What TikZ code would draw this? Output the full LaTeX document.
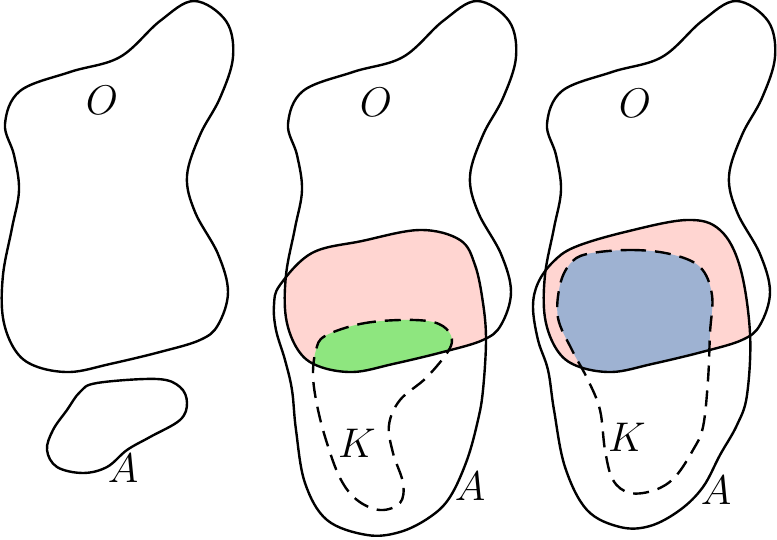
\documentclass[tikz,border=0pt]{standalone}
\usetikzlibrary{positioning}

\definecolor{interred}{RGB}{255,213,209}
\definecolor{kgreen}{RGB}{142,230,127}
\definecolor{kblue}{RGB}{158,178,210}

\def\setO{plot[smooth cycle,tension=0.6] coordinates {
 (194,1) (226,21) (233,57) (220,98) (200,135) (187,176) (195,212)
 (218,254) (228,292) (218,325) (200,340) (160,352) (110,364) (70,372)
 (35,366) (15,350) (3,318) (3,275) (12,228) (19,190) (14,155) (5,124)
 (20,91) (70,72) (120,57) (160,21)}}
\def\smallA{plot[smooth cycle,tension=0.6] coordinates {
 (97,383) (157,379) (180,387) (187,403) (180,420) (150,437) (127,450)
 (107,467) (83,473) (57,467) (47,450) (53,430) (67,410) (80,392)}}
\def\bigA{plot[smooth cycle,tension=0.6] coordinates {
 (312,253) (362,241) (420,230) (460,240) (475,265) (483,303) (486,340)
 (483,390) (478,420) (467,460) (450,497) (430,517) (400,532) (367,535)
 (327,520) (305,483) (296,430) (292,390) (285,360) (276,330) (274,305)
 (280,285)}}
\def\bigAr{plot[smooth cycle,tension=0.6] coordinates {
 (575,247) (625,232) (687,220) (720,230) (740,267) (750,333) (747,395)
 (737,425) (720,455) (703,487) (680,510) (650,526) (620,527) (587,510)
 (565,467) (554,410) (548,370) (538,340) (533,307) (538,283) (553,262)}}
\def\setKa{plot[smooth cycle,tension=0.6] coordinates {
 (325,336) (360,324) (400,320) (433,322) (449,332) (450,348) (427,377)
 (400,400) (389,425) (393,453) (403,483) (400,503) (380,510) (357,500)
 (340,478) (326,440) (317,405) (313,375) (316,350)}}
\def\setKb{plot[smooth cycle,tension=0.6] coordinates {
 (587,254) (630,250) (670,254) (700,267) (712,295) (710,333) (708,380)
 (703,427) (693,450) (675,477) (655,490) (630,493) (613,480) (605,450)
 (600,410) (588,380) (572,350) (558,318) (560,285) (570,264)}}

\begin{document}
\begin{tikzpicture}
[x=0.5pt,y=-0.5pt,
 blob/.style={line width=1.2pt},
 kdash/.style={blob,dash pattern=on 8pt off 4.5pt},
 lbl/.style={font=\huge}]

\useasboundingbox (0,0) rectangle (777,540);

% left: O and A apart
\draw [blob] \setO;
\draw [blob] \smallA;
\node (o1) [lbl] at (102,100) {$O$};
\node (a1) [lbl] at (123,468) {$A$};

% middle
\begin{scope}
 \clip [shift={(283,0)}] \setO;
 \fill [interred] \bigA;
 \fill [kgreen] \setKa;
\end{scope}
\draw [blob,shift={(283,0)}] \setO;
\draw [blob] \bigA;
\draw [kdash] \setKa;
\node (o2) [lbl] at (376,102) {$O$};
\node (k2) [lbl] at (357,443) {$K$};
\node (a2) [lbl] at (470,486) {$A$};

% right
\begin{scope}
 \clip [shift={(542,0)}] \setO;
 \fill [interred] \bigAr;
 \fill [kblue] \setKb;
\end{scope}
\draw [blob,shift={(542,0)}] \setO;
\draw [blob] \bigAr;
\draw [kdash] \setKb;
\node (o3) [lbl] at (635,103) {$O$};
\node (k3) [lbl] at (627,437) {$K$};
\node (a3) [lbl] at (716,490) {$A$};
\end{tikzpicture}
\end{document}
